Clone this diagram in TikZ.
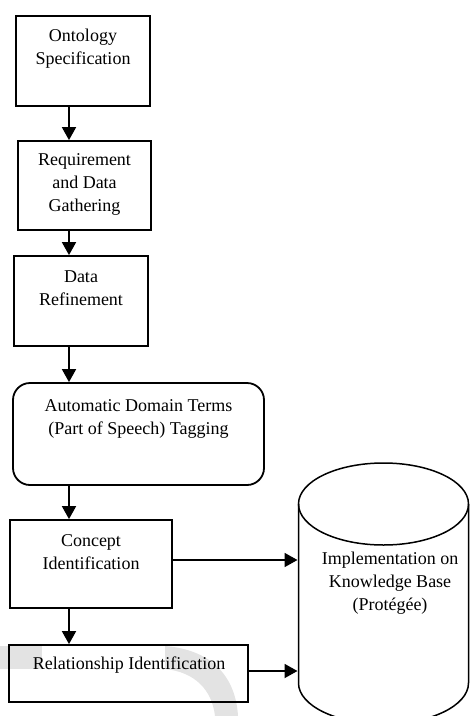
\documentclass[tikz,border=0pt]{standalone}
\usepackage{fontspec}
\setmainfont{Liberation Serif}
\usetikzlibrary{arrows.meta,calc,positioning}

\begin{document}
\begin{tikzpicture}[x=1pt,y=-1pt,>={Triangle[length=13pt,width=14pt]},
  font=\fontsize{18}{23}\selectfont,
  stepbox/.style={draw,line width=1.8pt,inner sep=0pt},
  txt/.style={align=center,inner sep=0pt},
  flow/.style={->,line width=1.8pt}]
\useasboundingbox (0,0) rectangle (470,716);
\clip (0,0) rectangle (470,716);
% faint mark behind the last box
\fill[gray!22] (0,646) rectangle (42,669);
\fill[gray!22] (165,646) .. controls (215,650) and (236,680) .. (238,716) -- (215,716) .. controls (212,690) and (195,672) .. (165,669) -- cycle;
% steps
\node[stepbox,minimum width=134pt,minimum height=90pt] (spec) at (83,61) {};
\node[stepbox,minimum width=133pt,minimum height=89pt] (req) at (84.5,185.5) {};
\node[stepbox,minimum width=134pt,minimum height=90pt] (refine) at (81,301) {};
\node[stepbox,rounded corners=17pt,minimum width=251pt,minimum height=102pt] (tag) at (138.5,434) {};
\node[stepbox,minimum width=162pt,minimum height=88pt] (concept) at (91,564) {};
\node[stepbox,minimum width=239pt,minimum height=57pt] (rel) at (128.5,673.5) {};
\node[txt] (spec-t) at (83,48.5) {Ontology\\Specification};
\node[txt] (req-t) at (84.5,184.5) {Requirement\\and Data\\Gathering};
\node[txt] (refine-t) at (81,288.5) {Data\\Refinement};
\node[txt] (tag-t) at (138.5,418.5) {Automatic Domain Terms\\(Part of Speech) Tagging};
\node[txt] (concept-t) at (91,552) {Concept\\Identification};
\node[txt] (rel-t) at (129,665) {Relationship Identification};
% knowledge base
\draw[line width=1.5pt] (383.5,504) ellipse [x radius=85,y radius=41];
\draw[line width=1.5pt] (298.5,504) -- (298.5,683) arc[start angle=180,end angle=0,x radius=85,y radius=41] -- (468.5,504);
\node[txt] (kb) at (390,583) {Implementation on\\Knowledge Base\\(Protégée)};
\coordinate (kbw) at (297.5,560);
% arrows
\coordinate (ax) at (69,0);
\draw[flow] (spec.south -| ax) -- (req.north -| ax);
\draw[flow] (req.south -| ax) -- (refine.north -| ax);
\draw[flow] (refine.south -| ax) -- (tag.north -| ax);
\draw[flow] (tag.south -| ax) -- (concept.north -| ax);
\draw[flow] (concept.south -| ax) -- (rel.north -| ax);
\draw[flow] ([yshift=4pt]concept.east) -- ([yshift=4pt]concept.east -| kbw);
\draw[flow] ([yshift=2.5pt]rel.east) -- ([yshift=2.5pt]rel.east -| kbw);
\end{tikzpicture}
\end{document}
